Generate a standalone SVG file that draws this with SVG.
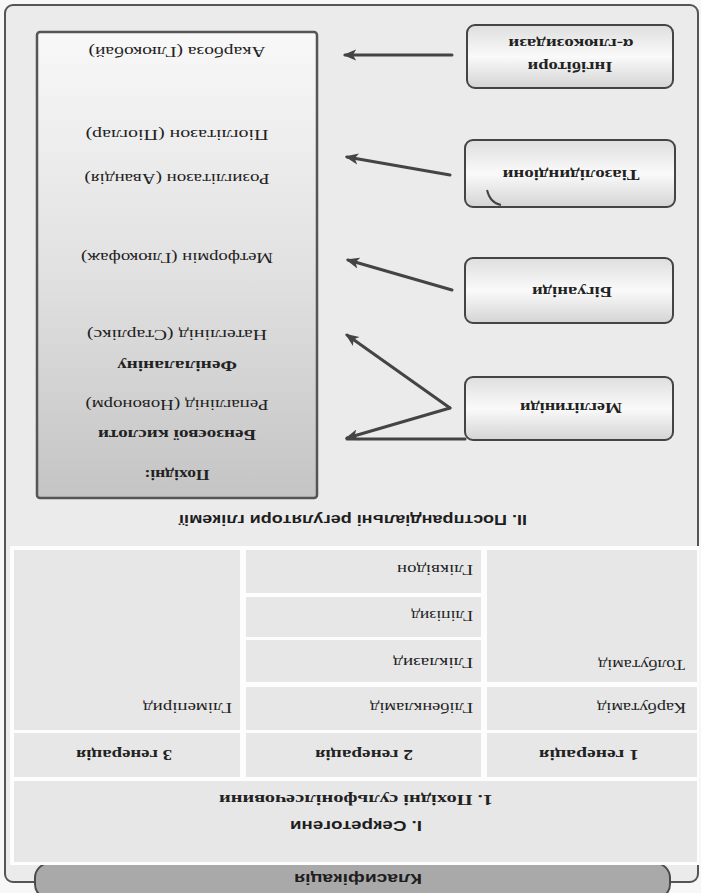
<svg xmlns="http://www.w3.org/2000/svg" width="701" height="893" viewBox="0 0 701 893">
  <style>
    .frame { fill: #ebebeb; stroke: #555; stroke-width: 2; }
    .cell { fill: #e7e7e7; }
    .tab { fill: #a9a9a9; stroke: #4a4a4a; stroke-width: 2; }
    .card { fill: url(#cardFill); stroke: #444; stroke-width: 2; }
    .panel { fill: url(#panelFill); stroke: #555; stroke-width: 2.5; }
    .link { fill: none; stroke: #444; stroke-width: 3; stroke-linecap: round; }
    .head { font-family: "Liberation Sans Narrow", "Liberation Sans", Arial, sans-serif; font-weight: bold; font-size: 15px; fill: #1e1e1e; }
    .txt { font-family: "Liberation Serif", "Times New Roman", serif; font-size: 15px; fill: #222; }
    .bold { font-weight: bold; }
    .mid { text-anchor: middle; }
  </style>
  <defs>
    <linearGradient id="panelFill" x1="0" y1="0" x2="0" y2="1">
      <stop offset="0" stop-color="#c4c4c4"/>
      <stop offset="0.5" stop-color="#e2e2e2"/>
      <stop offset="1" stop-color="#f8f8f8"/>
    </linearGradient>
    <linearGradient id="cardFill" x1="0" y1="0" x2="0" y2="1">
      <stop offset="0" stop-color="#d4d4d4"/>
      <stop offset="0.5" stop-color="#fafafa"/>
      <stop offset="1" stop-color="#dedede"/>
    </linearGradient>
    <marker id="head" viewBox="0 0 12 10" refX="10" refY="5" markerWidth="4.5" markerHeight="4.5" orient="auto" markerUnits="strokeWidth">
      <path d="M0,0 L12,5 L0,10 L3,5 z" fill="#444"/>
    </marker>
  </defs>

  <rect x="0" y="0" width="701" height="893" fill="#f7f7f7"/>

  <!-- whole sheet is printed turned half a revolution -->
  <g transform="rotate(180 350.5 446.5)">
    <rect class="frame" x="3" y="11" width="693" height="877" rx="8"/>

    <g id="classification">
      <rect class="tab" x="31" y="-6" width="635" height="36" rx="15"/>
      <text class="head mid" x="343" y="19" textLength="128" lengthAdjust="spacingAndGlyphs">Класифікація</text>
    </g>

    <!-- table of sulfonylurea derivatives -->
    <g id="table">
      <rect x="2" y="28" width="689" height="319" fill="#fdfdfd"/>
      <g id="secretagogues">
        <rect class="cell" x="4" y="31" width="683" height="81"/>
        <text class="head mid" x="345" y="72" textLength="132" lengthAdjust="spacingAndGlyphs">I. Секретогени</text>
        <text class="txt bold mid" x="345" y="98" textLength="274" lengthAdjust="spacingAndGlyphs">1. Похідні сульфонілсечовини</text>
      </g>
      <g id="gen1">
        <rect class="cell" x="4" y="116" width="210" height="44"/>
        <text class="txt bold mid" x="112" y="143" textLength="100" lengthAdjust="spacingAndGlyphs">1 генерація</text>
      </g>
      <g id="gen2">
        <rect class="cell" x="220" y="116" width="235" height="44"/>
        <text class="txt bold mid" x="337" y="143" textLength="98" lengthAdjust="spacingAndGlyphs">2 генерація</text>
      </g>
      <g id="gen3">
        <rect class="cell" x="461" y="116" width="226" height="44"/>
        <text class="txt bold mid" x="577" y="143" textLength="96" lengthAdjust="spacingAndGlyphs">3 генерація</text>
      </g>
      <g id="carbutamide">
        <rect class="cell" x="4" y="163" width="210" height="43"/>
        <text class="txt" x="15" y="190" textLength="89" lengthAdjust="spacingAndGlyphs">Карбутамід</text>
      </g>
      <g id="tolbutamide">
        <rect class="cell" x="4" y="211" width="210" height="132"/>
        <text class="txt" x="16" y="233" textLength="87" lengthAdjust="spacingAndGlyphs">Толбутамід</text>
      </g>
      <g id="glibenclamide">
        <rect class="cell" x="220" y="163" width="235" height="43"/>
        <text class="txt" x="228" y="190" textLength="103" lengthAdjust="spacingAndGlyphs">Глібенкламід</text>
      </g>
      <g id="gliclazide">
        <rect class="cell" x="220" y="211" width="235" height="42"/>
        <text class="txt" x="228" y="235" textLength="80" lengthAdjust="spacingAndGlyphs">Гліклазид</text>
      </g>
      <g id="glipizide">
        <rect class="cell" x="220" y="256" width="235" height="40"/>
        <text class="txt" x="228" y="282" textLength="62" lengthAdjust="spacingAndGlyphs">Гліпізид</text>
      </g>
      <g id="gliquidone">
        <rect class="cell" x="220" y="300" width="235" height="43"/>
        <text class="txt" x="228" y="328" textLength="76" lengthAdjust="spacingAndGlyphs">Гліквідон</text>
      </g>
      <g id="glimepiride">
        <rect class="cell" x="461" y="163" width="226" height="180"/>
        <text class="txt" x="469" y="190" textLength="89" lengthAdjust="spacingAndGlyphs">Глімепірид</text>
      </g>
    </g>

    <text id="postprandial" class="head mid" x="348" y="378" textLength="348" lengthAdjust="spacingAndGlyphs">II. Постпрандіальні регулятори глікемії</text>

    <g id="drugs">
      <rect class="panel" x="384" y="395" width="280" height="466" rx="3"/>
      <text class="txt bold mid" x="524" y="423" textLength="65" lengthAdjust="spacingAndGlyphs">Похідні:</text>
      <text class="txt bold mid" x="524" y="463" textLength="158" lengthAdjust="spacingAndGlyphs">Бензоєвої кислоти</text>
      <text class="txt mid" x="524" y="493" textLength="183" lengthAdjust="spacingAndGlyphs">Репаглінід (Новонорм)</text>
      <text class="txt bold mid" x="524" y="532" textLength="120" lengthAdjust="spacingAndGlyphs">Фенілаланіну</text>
      <text class="txt mid" x="524" y="563" textLength="180" lengthAdjust="spacingAndGlyphs">Натеглінід (Старлікс)</text>
      <text class="txt mid" x="524" y="640" textLength="192" lengthAdjust="spacingAndGlyphs">Метформін (Глюкофаж)</text>
      <text class="txt mid" x="524" y="719" textLength="185" lengthAdjust="spacingAndGlyphs">Розиглітазон (Авандія)</text>
      <text class="txt mid" x="524" y="763" textLength="183" lengthAdjust="spacingAndGlyphs">Піоглітазон (Піоглар)</text>
      <text class="txt mid" x="524" y="846" textLength="177" lengthAdjust="spacingAndGlyphs">Акарбоза (Глюкобай)</text>
    </g>

    <g id="meglitinides">
      <rect class="card" x="28" y="453" width="208" height="63" rx="8"/>
      <text class="txt bold mid" x="130" y="490" textLength="102" lengthAdjust="spacingAndGlyphs">Меглітиніди</text>
    </g>
    <g id="biguanides">
      <rect class="card" x="28" y="570" width="208" height="65" rx="8"/>
      <text class="txt bold mid" x="129" y="606" textLength="80" lengthAdjust="spacingAndGlyphs">Бігуаніди</text>
    </g>
    <g id="thiazolidinediones">
      <rect class="card" x="26" y="686" width="210" height="67" rx="8"/>
      <path d="M214,703 Q211,690 200,688" fill="none" stroke="#444" stroke-width="2"/>
      <text class="txt bold mid" x="130" y="723" textLength="137" lengthAdjust="spacingAndGlyphs">Тіазолідиндіони</text>
    </g>
    <g id="glucosidase-inhibitors">
      <rect class="card" x="28" y="805" width="206" height="63" rx="8"/>
      <text class="txt bold mid" x="131" y="831" textLength="85" lengthAdjust="spacingAndGlyphs">Інгібітори</text>
      <text class="txt bold mid" x="130" y="854" textLength="125" lengthAdjust="spacingAndGlyphs">α-глюкозидази</text>
    </g>

    <g id="connectors">
      <line class="link" x1="236" y1="454" x2="354" y2="454"/>
      <line class="link" x1="251" y1="485" x2="354" y2="455" marker-end="url(#head)"/>
      <line class="link" x1="251" y1="485" x2="354" y2="558" marker-end="url(#head)"/>
      <line class="link" x1="249" y1="603" x2="353" y2="633" marker-end="url(#head)"/>
      <line class="link" x1="251" y1="718" x2="354" y2="736" stroke-width="5" marker-end="url(#head)"/>
      <line class="link" x1="249" y1="838" x2="356" y2="838" marker-end="url(#head)"/>
    </g>
  </g>
</svg>
